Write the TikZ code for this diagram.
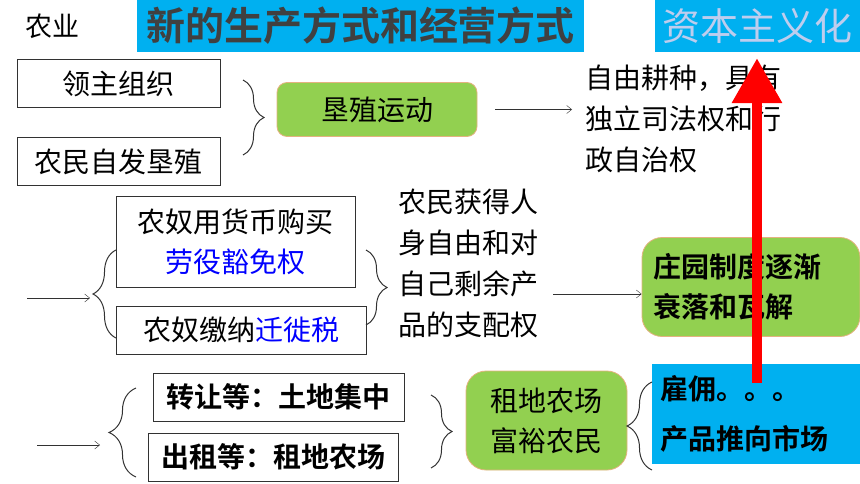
\documentclass[tikz,border=0pt]{standalone}
\usepackage{fontspec}
\setmainfont{Noto Sans CJK SC}[BoldFont={Noto Sans CJK SC Bold}]
\usepackage{xcolor}
\definecolor{skyblue}{RGB}{0,176,240}
\definecolor{leafgreen}{RGB}{146,208,80}
\definecolor{peach}{RGB}{228,178,128}
\definecolor{titlegray}{RGB}{64,64,64}
\definecolor{capblue}{RGB}{190,205,238}
\definecolor{blueword}{RGB}{0,0,255}
\definecolor{lineblack}{RGB}{50,50,50}
\usetikzlibrary{positioning, calc, arrows.meta, decorations.pathreplacing}
\tikzstyle{Arrow} = [thin, lineblack, -{Straight Barb[length=5pt,width=8pt]}]
\tikzstyle{RedArrow} = [red, line width=10pt, -{Triangle[length=45pt,width=48pt]}]
\tikzstyle{Brace} = [lineblack, line width=1pt, decorate]
\tikzstyle{Banner} = [fill=skyblue, inner sep=0pt, minimum height=52pt]
\tikzstyle{Plain} = [draw=lineblack, line width=1pt, inner sep=0pt, align=center,
font=\fontsize{28}{40}\selectfont]
\tikzstyle{Bold} = [Plain, font=\fontsize{28}{40}\selectfont\bfseries]
\tikzstyle{Green} = [fill=leafgreen, draw=peach, line width=0.8pt, inner sep=0pt,
align=center, font=\fontsize{28}{40}\selectfont]
\tikzstyle{Words} = [inner sep=0pt, anchor=west, align=left,
font=\fontsize{28}{41}\selectfont]

\begin{document}
\begin{tikzpicture}[x=1pt, y=-1pt]
        \useasboundingbox (0,0) rectangle (860,484);
        % header
        \node[font=\fontsize{27}{30}\selectfont] (agri) at (52,26) {农业};
        \node[Banner, minimum width=447pt, text=titlegray,
              font=\fontsize{39}{40}\selectfont\bfseries] (title) at (360.5,26) {新的生产方式和经营方式};
        \node[Banner, minimum width=205pt, text=capblue,
              font=\fontsize{38}{40}\selectfont] (capital) at (757.5,26) {资本主义化};

        % first row
        \node[Plain, minimum width=203pt, minimum height=48pt] (lord) at (118.5,84) {领主组织};
        \node[Plain, minimum width=203pt, minimum height=48pt] (peasant) at (118.5,162) {农民自发垦殖};
        \node[Green, rounded corners=10pt, minimum width=200pt, minimum height=54pt] (reclaim) at (377,109.5) {垦殖运动};
        \node[Words] (freedom) at (585,119) {自由耕种，具有\\独立司法权和行\\政自治权};

        % second row
        \node[Plain, minimum width=239pt, minimum height=90pt] (buy) at (235.5,242) {农奴用货币购买\\\textcolor{blueword}{劳役豁免权}};
        \node[Plain, minimum width=250pt, minimum height=48pt] (tax) at (241,330) {农奴缴纳\textcolor{blueword}{迁徙税}};
        \node[Words] (liberty) at (398,263) {农民获得人\\身自由和对\\自己剩余产\\品的支配权};
        \node[Green, rounded corners=20pt, minimum width=218pt, minimum height=99pt,
              text width=196pt, align=left, font=\fontsize{28}{40}\selectfont\bfseries] (manor) at (751,287) {庄园制度逐渐\\衰落和瓦解};

        % third row
        \node[Bold, minimum width=251pt, minimum height=48pt] (transfer) at (278.5,397) {转让等：土地集中};
        \node[Bold, minimum width=250pt, minimum height=48pt] (lease) at (273,457) {出租等：租地农场};
        \node[Green, rounded corners=20pt, minimum width=161pt, minimum height=99pt] (farm) at (546.5,420.5) {租地农场\\富裕农民};
        \node[fill=skyblue, inner sep=0pt, minimum height=100pt, text width=192pt, inner xsep=8pt,
              align=left, font=\fontsize{28}{50}\selectfont\bfseries] (market) at (756,414) {雇佣。。。\\产品推向市场};

        % braces
        \draw[Brace, decoration={brace, amplitude=21pt}] (243,80) -- (243,155);
        \draw[Brace, decoration={brace, amplitude=23pt}] (116,338) -- (116,250);
        \draw[Brace, decoration={brace, amplitude=21pt}] (366,250) -- (366,325);
        \draw[Brace, decoration={brace, amplitude=27pt}] (136,477) -- (136,388);
        \draw[Brace, decoration={brace, amplitude=21pt}] (431,395) -- (431,468);
        \draw[Brace, decoration={brace, amplitude=25pt}] (652,470) -- (652,382);

        % arrows
        \coordinate (in2) at (27,298);
        \coordinate (tip2) at (90,298);
        \coordinate (in3) at (37,445);
        \coordinate (tip3) at (100,445);
        \coordinate (out2) at (553,294);
        \coordinate (redfoot) at (757,383);
        \draw[Arrow, shorten <=18pt, shorten >=13pt] (reclaim.east) -- (reclaim.east -| freedom.west);
        \draw[Arrow] (in2) -- (tip2);
        \draw[Arrow] (in3) -- (tip3);
        \draw[Arrow] (out2) -- (manor.west |- out2);
        \draw[RedArrow, shorten >=6pt] (redfoot) -- (redfoot |- capital.south);
    \end{tikzpicture}
\end{document}
